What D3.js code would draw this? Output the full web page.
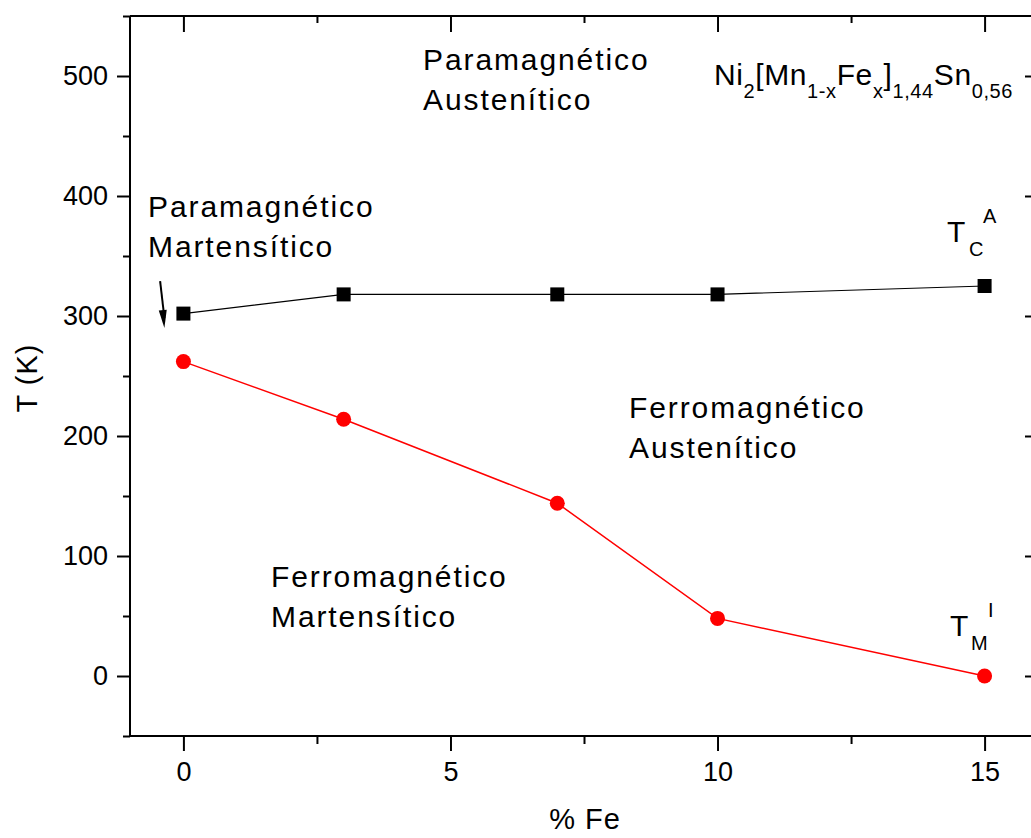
<!DOCTYPE html>
<html>
<head>
<meta charset="utf-8">
<script src="https://cdn.jsdelivr.net/npm/d3@7"></script>
<style>
  html, body { margin: 0; padding: 0; background: #fff; }
  svg { display: block; }
  text { font-family: "Liberation Sans", Arial, sans-serif; fill: #000; }
</style>
</head>
<body>
<svg id="chart" width="1031" height="838"></svg>
<script>
// ---- Data ----
const feContent = [0, 3, 7, 10, 15];              // % Fe
const curieA = [302, 318, 318, 318, 325];         // T_C^A (K)
const martI = [262, 214, 144, 48, 0];             // T_M^I (K)
const xTicks = [0, 5, 10, 15];
const yTicks = [0, 100, 200, 300, 400, 500];
const xLabel = "% Fe";
const yLabel = "T (K)";
const regionLabels = [
  ["Paramagnético", "Austenítico"],
  ["Paramagnético", "Martensítico"],
  ["Ferromagnético", "Austenítico"],
  ["Ferromagnético", "Martensítico"]
];

// ---- Layout ----
const svg = d3.select("#chart");
const x = d3.scaleLinear().domain([-1, 16]).range([130, 1038]);
const y = d3.scaleLinear().domain([-50, 550]).range([736, 16]);

const axisW = 2;
const fontTick = 27;
const fontLab = 30;

// frame lines
svg.append("line").attr("x1", x(-1)).attr("x2", x(16)).attr("y1", y(-50)).attr("y2", y(-50))
  .attr("stroke", "#000").attr("stroke-width", axisW);
svg.append("line").attr("x1", x(-1)).attr("x2", x(16)).attr("y1", y(550)).attr("y2", y(550))
  .attr("stroke", "#000").attr("stroke-width", axisW);
svg.append("line").attr("x1", x(-1)).attr("x2", x(-1)).attr("y1", y(-50)).attr("y2", y(550))
  .attr("stroke", "#000").attr("stroke-width", axisW);
svg.append("line").attr("x1", x(16)).attr("x2", x(16)).attr("y1", y(-50)).attr("y2", y(550))
  .attr("stroke", "#000").attr("stroke-width", axisW);

const xMinor = d3.range(-2.5, 16.1, 2.5).filter(v => v > -1 && v < 16 && !xTicks.includes(v));
const yMinor = d3.range(-50, 551, 50).filter(v => !yTicks.includes(v));

function styleAxis(g) {
  g.select(".domain").remove();
  g.selectAll(".tick line").attr("stroke", "#000").attr("stroke-width", axisW);
  g.selectAll(".tick text").style("font-size", fontTick + "px").attr("fill", "#000")
    .style("font-family", '"Liberation Sans", Arial, sans-serif');
}

// bottom
svg.append("g").attr("transform", `translate(0,${y(-50)})`)
  .call(d3.axisBottom(x).tickValues(xTicks).tickSize(15).tickPadding(11).tickFormat(d3.format("d")))
  .call(styleAxis);
svg.append("g").attr("transform", `translate(0,${y(-50)})`)
  .call(d3.axisBottom(x).tickValues(xMinor).tickSize(8).tickFormat(""))
  .call(styleAxis);
// top (inward)
svg.append("g").attr("transform", `translate(0,${y(550)})`)
  .call(d3.axisBottom(x).tickValues(xTicks).tickSize(16).tickFormat(""))
  .call(styleAxis);
svg.append("g").attr("transform", `translate(0,${y(550)})`)
  .call(d3.axisBottom(x).tickValues(xMinor).tickSize(7).tickFormat(""))
  .call(styleAxis);
// left
svg.append("g").attr("transform", `translate(${x(-1)},0)`)
  .call(d3.axisLeft(y).tickValues(yTicks).tickSize(13).tickPadding(9).tickFormat(d3.format("d")))
  .call(styleAxis);
svg.append("g").attr("transform", `translate(${x(-1)},0)`)
  .call(d3.axisLeft(y).tickValues(yMinor).tickSize(7).tickFormat(""))
  .call(styleAxis);
// right (inward)
svg.append("g").attr("transform", `translate(${x(16)},0)`)
  .call(d3.axisLeft(y).tickValues(yTicks).tickSize(13).tickFormat(""))
  .call(styleAxis);
svg.append("g").attr("transform", `translate(${x(16)},0)`)
  .call(d3.axisLeft(y).tickValues(yMinor).tickSize(7).tickFormat(""))
  .call(styleAxis);

// axis titles
svg.append("text").attr("x", 585).attr("y", 829).attr("text-anchor", "middle")
  .style("font-size", "29px").style("letter-spacing", "1px").text(xLabel);
svg.append("text").attr("transform", "translate(37,378) rotate(-90)").attr("text-anchor", "middle")
  .style("font-size", "29px").style("letter-spacing", "1px").text(yLabel);

// ---- Series ----
const ptsA = feContent.map((d, i) => [d, curieA[i]]);
const ptsM = feContent.map((d, i) => [d, martI[i]]);
const line = d3.line().x(d => x(d[0])).y(d => y(d[1]));

svg.append("path").datum(ptsA).attr("d", line).attr("fill", "none")
  .attr("stroke", "#000").attr("stroke-width", 1.2);
svg.append("path").datum(ptsM).attr("d", line).attr("fill", "none")
  .attr("stroke", "#ff0000").attr("stroke-width", 1.5);

const sq = 14;
svg.selectAll("rect.sqA").data(ptsA).enter().append("rect")
  .attr("x", d => x(d[0]) - sq / 2).attr("y", d => y(d[1]) - sq / 2)
  .attr("width", sq).attr("height", sq).attr("fill", "#000");
svg.selectAll("circle.ciM").data(ptsM).enter().append("circle")
  .attr("cx", d => x(d[0])).attr("cy", d => y(d[1])).attr("r", 7.5).attr("fill", "#ff0000");

// ---- Annotations ----
const labPos = [[423, 70], [148, 217], [629, 418], [271, 587]];
regionLabels.forEach((lines, i) => {
  lines.forEach((t, j) => {
    svg.append("text").attr("x", labPos[i][0]).attr("y", labPos[i][1] + j * 40)
      .style("font-size", fontLab + "px").style("letter-spacing", "1.9px").text(t);
  });
});

// formula
const f = svg.append("text").attr("x", 714).attr("y", 85).style("font-size", "30px").style("letter-spacing", "0.6px");
const parts = [["Ni", 0], ["2", 1], ["[Mn", 0], ["1-x", 1], ["Fe", 0], ["x", 1], ["]", 0], ["1,44", 1], ["Sn", 0], ["0,56", 1]];
let prevSub = false;
parts.forEach(([t, sub]) => {
  const ts = f.append("tspan").text(t);
  if (sub) {
    ts.style("font-size", "20px").attr("dy", prevSub ? 0 : 13);
  } else {
    ts.attr("dy", prevSub ? -13 : 0);
  }
  prevSub = !!sub;
});

// T_C^A
svg.append("text").attr("x", 947).attr("y", 242).style("font-size", "30px").text("T");
svg.append("text").attr("x", 969).attr("y", 256).style("font-size", "20px").text("C");
svg.append("text").attr("x", 983).attr("y", 223).style("font-size", "20px").text("A");
// T_M^I
svg.append("text").attr("x", 950).attr("y", 636).style("font-size", "30px").text("T");
svg.append("text").attr("x", 971).attr("y", 650).style("font-size", "20px").text("M");
svg.append("text").attr("x", 988).attr("y", 617).style("font-size", "20px").text("I");

// arrow
const aFrom = [-0.436, 329], aTo = [-0.356, 290];
const ax1 = x(aFrom[0]), ay1 = y(aFrom[1]), ax2 = x(aTo[0]), ay2 = y(aTo[1]);
svg.append("line").attr("x1", ax1).attr("y1", ay1).attr("x2", ax2).attr("y2", ay2 - 10)
  .attr("stroke", "#000").attr("stroke-width", 2);
const ang = Math.atan2(ay2 - ay1, ax2 - ax1);
const hl = 18, hw = 4;
const bx = ax2 - hl * Math.cos(ang), by = ay2 - hl * Math.sin(ang);
svg.append("path")
  .attr("d", `M${ax2},${ay2} L${bx + hw * Math.sin(ang)},${by - hw * Math.cos(ang)} L${bx - hw * Math.sin(ang)},${by + hw * Math.cos(ang)} Z`)
  .attr("fill", "#000");
</script>
</body>
</html>
